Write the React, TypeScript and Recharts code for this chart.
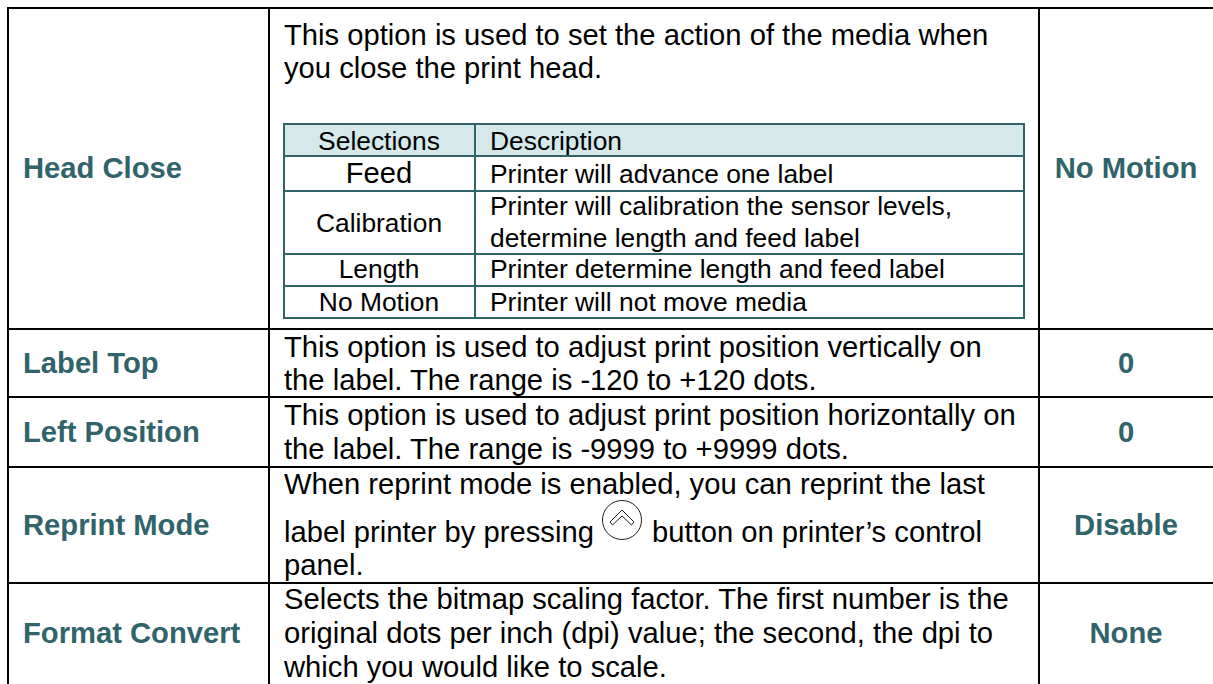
import React from "react";
import {
  ComposedChart,
  ReferenceArea,
  ReferenceLine,
  Scatter,
  XAxis,
  YAxis,
} from "recharts";

const WIDTH = 1213;
const HEIGHT = 684;
const FONT = '"Liberation Sans", Arial, sans-serif';
const TEAL = "#31646a";

// outer table
const settingNames = ["Head Close", "Label Top", "Left Position", "Reprint Mode", "Format Convert"];
const settingDefaults = ["No Motion", "0", "0", "Disable", "None"];
const nameBaselines = [178, 373, 442, 535, 643];
const descriptionLines = [
  { text: "This option is used to set the action of the media when", y: 45 },
  { text: "you close the print head.", y: 78 },
  { text: "This option is used to adjust print position vertically on", y: 357 },
  { text: "the label. The range is -120 to +120 dots.", y: 390 },
  { text: "This option is used to adjust print position horizontally on", y: 425 },
  { text: "the label. The range is -9999 to +9999 dots.", y: 459 },
  { text: "When reprint mode is enabled, you can reprint the last", y: 494 },
  { text: "label printer by pressing", y: 542 },
  { text: "panel.", y: 575 },
  { text: "Selects the bitmap scaling factor. The first number is the", y: 609 },
  { text: "original dots per inch (dpi) value; the second, the dpi to", y: 643 },
  { text: "which you would like to scale.", y: 677 },
];
const outerRows = [8, 329, 397, 467, 583];
const outerCols = [8, 269, 1039];

// nested selections table
const selections = ["Selections", "Feed", "Calibration", "Length", "No Motion"];
const selectionBaselines = [150, 183, 232, 278, 311];
const selectionDetails = [
  { text: "Description", y: 150 },
  { text: "Printer will advance one label", y: 183 },
  { text: "Printer will calibration the sensor levels,", y: 215 },
  { text: "determine length and feed label", y: 247 },
  { text: "Printer determine length and feed label", y: 278 },
  { text: "Printer will not move media", y: 311 },
];
const innerRows = [124, 156, 191, 254, 286, 318];
const innerCols = [284, 475, 1024];

const BODY = 29.2;
const SMALL = 26.4;

const textPoints = [
  ...settingNames.map((text, i) => ({ x: 23, y: nameBaselines[i], text, size: BODY, bold: true })),
  ...settingDefaults.map((text, i) => ({ x: 1126, y: nameBaselines[i], text, size: BODY, bold: true, middle: true })),
  ...descriptionLines.map((l) => ({ x: 284, y: l.y, text: l.text, size: BODY })),
  { x: 652, y: 542, text: "button on printer’s control", size: BODY },
  ...selections.map((text, i) => ({ x: 379, y: selectionBaselines[i], text, size: i === 1 ? BODY : SMALL, middle: true })),
  ...selectionDetails.map((l) => ({ x: 490, y: l.y, text: l.text, size: SMALL })),
];
const buttonPoints = [{ x: 622, y: 520 }];

const TextMark = ({ cx, cy, payload }: any) => (
  <text
    x={cx}
    y={cy}
    fontFamily={FONT}
    fontSize={payload.size}
    fontWeight={payload.bold ? 700 : 400}
    textAnchor={payload.middle ? "middle" : "start"}
    fill={payload.bold ? TEAL : "#000"}
  >
    {payload.text}
  </text>
);

const UpButton = ({ cx, cy }: any) => (
  <g fill="none" stroke="#222" strokeWidth={1}>
    <circle cx={cx} cy={cy} r={19.5} fill="#fff" />
    <path d={`M${cx - 12} ${cy + 2} L${cx} ${cy - 10} L${cx + 12} ${cy + 2} L${cx + 9.5} ${cy + 5} L${cx} ${cy - 4} L${cx - 9.5} ${cy + 5} Z`} />
  </g>
);

export default function App() {
  const rule = (key: string, x1: number, y1: number, x2: number, y2: number, color: string) => (
    <ReferenceLine
      key={key}
      segment={[
        { x: x1, y: y1 },
        { x: x2, y: y2 },
      ]}
      stroke={color}
      strokeWidth={2}
    />
  );
  return (
    <div style={{ position: "absolute", left: 0, top: 0, width: WIDTH, height: HEIGHT, background: "#fff" }}>
      <ComposedChart
        width={WIDTH}
        height={HEIGHT}
        margin={{ top: 0, right: 0, bottom: 0, left: 0 }}
      >
        <XAxis hide type="number" dataKey="x" domain={[0, WIDTH]} allowDataOverflow />
        <YAxis hide type="number" dataKey="y" domain={[0, HEIGHT]} reversed allowDataOverflow />

        <ReferenceArea
          x1={innerCols[0]}
          x2={innerCols[2]}
          y1={innerRows[0]}
          y2={innerRows[1]}
          fill="#d5e8ea"
          fillOpacity={1}
          stroke="none"
        />

        {outerRows.map((y) => rule(`or${y}`, outerCols[0] - 1, y, WIDTH, y, "#000"))}
        {outerCols.map((x) => rule(`oc${x}`, x, outerRows[0], x, HEIGHT, "#000"))}
        {innerRows.map((y) => rule(`ir${y}`, innerCols[0] - 1, y, innerCols[2] + 1, y, TEAL))}
        {innerCols.map((x) => rule(`ic${x}`, x, innerRows[0], x, innerRows[5], TEAL))}

        <Scatter data={textPoints} dataKey="y" shape={TextMark} isAnimationActive={false} />
        <Scatter data={buttonPoints} dataKey="y" shape={UpButton} isAnimationActive={false} />
      </ComposedChart>
    </div>
  );
}
